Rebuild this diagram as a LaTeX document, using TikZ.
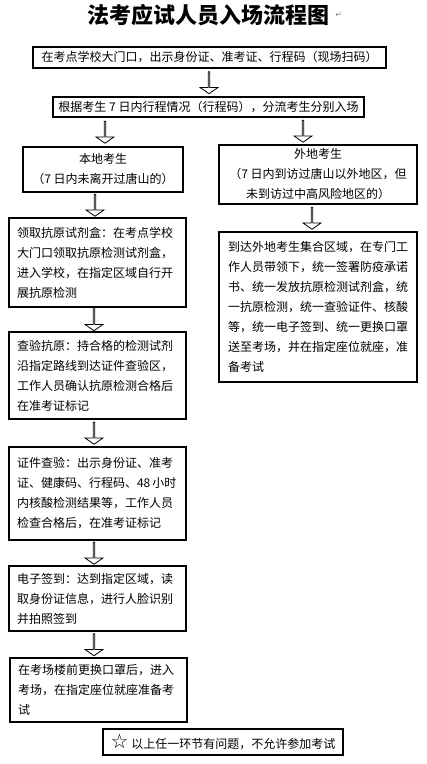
\documentclass[tikz,border=0pt]{standalone}
\usepackage{fontspec}
\setmainfont{Noto Sans CJK SC}
\newfontfamily\symfont{DejaVu Sans}
\usetikzlibrary{shapes.arrows,calc}

\begin{document}
\begin{tikzpicture}[x=0.75pt,y=0.75pt,yscale=-1,
	every node/.style={font=\fontsize{9pt}{15pt}\selectfont},
	box/.style={draw,line width=0.8pt,inner sep=0pt,align=center},
	stepbox/.style={draw,line width=0.8pt,inner ysep=0pt,inner xsep=6pt,align=left,text width=120.75pt},
	harrow/.style={draw,fill=white,line width=0.6pt,single arrow,shape border rotate=270,single arrow head extend=3.75pt,single arrow tip angle=110,minimum height=16.5pt,minimum width=13.5pt,inner sep=0pt}]
			\useasboundingbox (0,0) rectangle (426,764);
			
			\node[font=\fontsize{16.5pt}{16.5pt}\selectfont\bfseries] (title) at (208,15) {法考应试人员入场流程图};
			\node[anchor=west,inner sep=1pt,text=gray,font=\symfont\fontsize{6pt}{6pt}\selectfont] (mark) at (title.east) {↵};
			
			\node[box,minimum width=264.75pt,minimum height=15.75pt] (b1) at (209.5,57.5) {在考点学校大门口，出示身份证、准考证、行程码（现场扫码）};
			\node[box,minimum width=233.25pt,minimum height=15pt] (b2) at (208.5,107) {根据考生 7 日内行程情况（行程码），分流考生分别入场};
			\node[box,minimum width=120pt,minimum height=33.75pt] (b3l) at (103,169.5) {本地考生\\（7 日内未离开过唐山的）};
			\node[box,minimum width=148.5pt,minimum height=44.25pt] (b3r) at (318,174.5) {外地考生\\（7 日内到访过唐山以外地区，但\\未到访过中高风险地区的）};
			
			\node[stepbox,minimum height=66.75pt] (b4) at (97.5,262.5) {领取抗原试剂盒：在考点学校\\大门口领取抗原检测试剂盒，\\进入学校，在指定区域自行开\\展抗原检测};
			\node[stepbox,text width=135pt,inner xsep=6.75pt,minimum height=112.5pt] (br) at (318,307) {到达外地考生集合区域，在专门工\\作人员带领下，统一签署防疫承诺\\书、统一发放抗原检测试剂盒，统\\一抗原检测，统一查验证件、核酸\\等，统一电子签到、统一更换口罩\\送至考场，并在指定座位就座，准\\备考试};
			\node[stepbox,minimum height=65.25pt] (b5) at (97.5,375.5) {查验抗原：持合格的检测试剂\\沿指定路线到达证件查验区，\\工作人员确认抗原检测合格后\\在准考证标记};
			\node[stepbox,minimum height=69.75pt] (b6) at (97.5,493.5) {证件查验：出示身份证、准考\\\mbox{证、健康码、行程码、48\,小时}\\内核酸检测结果等，工作人员\\检查合格后，在准考证标记};
			\node[stepbox,minimum height=48.75pt] (b7) at (97.5,598.5) {电子签到：达到指定区域，读\\取身份证信息，进行人脸识别\\并拍照签到};
			\node[stepbox,minimum height=48pt] (b8) at (98.5,690) {在考场楼前更换口罩后，进入\\考场，在指定座位就座准备考\\试};
			\node[box,minimum width=180pt,minimum height=19.5pt] (note) at (223,742) {{\symfont\fontsize{15pt}{15pt}\selectfont ☆}\ 以上任一环节有问题，不允许参加考试};
			
			% hollow arrows
			\node[harrow] (a1) at ($(b1.south)!.5!(b2.north)$) {};
			\node[harrow] (a2) at ($(b2.south -| b3l.north)!.5!(b3l.north)+(2,0)$) {};
			\node[harrow] (a3) at ($(b2.south -| b3r.north)!.5!(b3r.north)+(-15,0)$) {};
			\node[harrow] (a4) at ($(b3l.south -| b4.north)!.5!(b4.north)+(-2.5,0)$) {};
			\node[harrow] (a5) at ($(b3r.south)!.5!(br.north)+(-6,0)$) {};
			\foreach \u/\v in {b4/b5,b5/b6,b6/b7,b7/b8}
				\node[harrow] (a-\u) at ($(\u.south -| b4.south)!.5!(\v.north -| b4.north)+(-3.5,0)$) {};
\end{tikzpicture}
\end{document}
